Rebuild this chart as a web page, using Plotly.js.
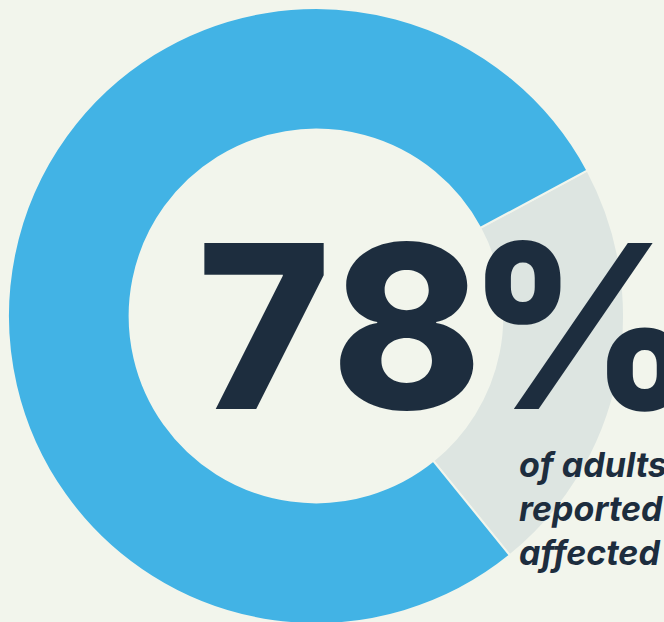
<!DOCTYPE html>
<html>
<head>
<meta charset="utf-8">
<script src="https://cdn.plot.ly/plotly-3.0.1.min.js"></script>
<style>
  html, body { margin: 0; padding: 0; background: #f2f5ec; overflow: hidden; width: 664px; height: 622px; }
  #chart { width: 664px; height: 640px; }
</style>
</head>
<body>
<div id="chart"></div>
<script>
// Data
const sliceLabels = ['Not affected', 'Affected'];
const sliceValues = [22, 78];
const sliceColors = ['#dde5e1', '#42b3e5'];
const headlineParts = ['7', '8', '%'];   // "78%"
const subtitleLines = ['of adults', 'reported', 'affected'];

const W = 664, H = 640;
const px = (x) => x / W;
const py = (y) => 1 - y / H;

const trace = {
  type: 'pie',
  labels: sliceLabels,
  values: sliceValues,
  sort: false,
  direction: 'clockwise',
  rotation: 61.8,
  hole: 0.605,
  textinfo: 'none',
  hoverinfo: 'none',
  showlegend: false,
  marker: { colors: sliceColors, line: { color: '#f2f5ec', width: 2 } },
  domain: { x: [px(8), px(624)], y: [py(624), py(8)] }
};

const headlineText = headlineParts[0] +
  '<span style="letter-spacing:-16px">' + headlineParts[1] + '</span>' + headlineParts[2];

const annotations = [{
  text: headlineText,
  xref: 'paper', yref: 'paper',
  x: px(195), y: py(326),
  xanchor: 'left', yanchor: 'middle',
  showarrow: false,
  font: { family: 'Inter, Lato, sans-serif', size: 228, weight: 800, color: '#1d2d3e' }
}];
const baselines = [476, 520, 564];
subtitleLines.forEach((t, i) => {
  annotations.push({
    text: '<i>' + t + '</i>',
    xref: 'paper', yref: 'paper',
    x: px(517), y: py(baselines[i] - 12),
    xanchor: 'left', yanchor: 'middle',
    showarrow: false,
    font: { family: 'Inter, Lato, sans-serif', size: 34, weight: 700, color: '#1d2d3e' }
  });
});

const layout = {
  width: W, height: H,
  margin: { l: 0, r: 0, t: 0, b: 0 },
  paper_bgcolor: '#f2f5ec',
  plot_bgcolor: '#f2f5ec',
  annotations: annotations
};

Plotly.newPlot('chart', [trace], layout, { displayModeBar: false, staticPlot: true });
</script>
</body>
</html>
